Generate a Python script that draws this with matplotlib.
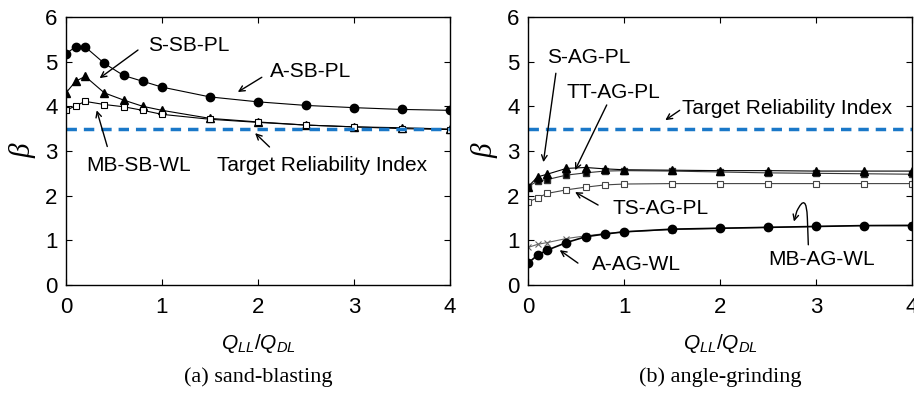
import matplotlib
matplotlib.use("Agg")
import matplotlib.pyplot as plt
from matplotlib.path import Path
from matplotlib.patches import FancyArrowPatch

plt.rcParams['font.family'] = ['Liberation Sans', 'DejaVu Sans']
plt.rcParams['mathtext.fontset'] = 'custom'
plt.rcParams['mathtext.it'] = 'Liberation Sans:italic'
plt.rcParams['mathtext.rm'] = 'Liberation Sans'

# ratio of live load to dead load
ratio = [0, 0.1, 0.2, 0.4, 0.6, 0.8, 1.0, 1.5, 2.0, 2.5, 3.0, 3.5, 4.0]
target_beta = 3.5

# (a) sand-blasting
a_sb_pl = [5.18, 5.33, 5.33, 4.96, 4.69, 4.56, 4.43, 4.21, 4.10, 4.02, 3.97, 3.93, 3.91]
s_sb_pl = [4.30, 4.56, 4.67, 4.30, 4.14, 4.00, 3.91, 3.73, 3.65, 3.58, 3.54, 3.52, 3.49]
mb_sb_wl = [3.91, 4.01, 4.11, 4.04, 3.99, 3.91, 3.82, 3.71, 3.64, 3.58, 3.54, 3.50, 3.48]

# (b) angle-grinding
s_ag_pl = [2.20, 2.42, 2.48, 2.61, 2.63, 2.60, 2.58, 2.57, 2.56, 2.56, 2.55, 2.55, 2.55]
tt_ag_pl = [2.20, 2.33, 2.36, 2.46, 2.51, 2.55, 2.56, 2.55, 2.53, 2.51, 2.50, 2.49, 2.48]
ts_ag_pl = [1.86, 1.95, 2.05, 2.13, 2.19, 2.24, 2.26, 2.27, 2.27, 2.27, 2.27, 2.27, 2.27]
a_ag_wl = [0.49, 0.67, 0.78, 0.95, 1.08, 1.14, 1.19, 1.25, 1.27, 1.29, 1.31, 1.33, 1.33]
mb_ag_wl = [0.84, 0.91, 0.95, 1.04, 1.10, 1.15, 1.19, 1.24, 1.27, 1.29, 1.31, 1.33, 1.34]

fig = plt.figure(figsize=(9.14, 4.08), dpi=100)
ax1 = fig.add_axes([0.0722, 0.3015, 0.4201, 0.6569])
ax2 = fig.add_axes([0.5777, 0.3015, 0.4201, 0.6569])

blue = '#1a78c8'
lw = 0.8
ms = 6

# panel (a)
ax1.plot(ratio, a_sb_pl, color='k', lw=lw, marker='o', ms=ms, mfc='k')
ax1.plot(ratio, s_sb_pl, color='k', lw=lw, marker='^', ms=ms, mfc='k')
ax1.plot(ratio, mb_sb_wl, color='k', lw=lw, marker='s', ms=5, mfc='white', mew=0.8)
ax1.axhline(target_beta, color=blue, lw=2.5, ls=(0, (3, 2)))

# panel (b)
ax2.axhline(target_beta, color=blue, lw=2.5, ls=(0, (3, 2)))
ax2.plot(ratio, ts_ag_pl, color='#444444', lw=lw, marker='s', ms=5, mfc='white', mew=0.8)
ax2.plot(ratio, tt_ag_pl, color='#333333', lw=lw, marker='s', ms=5, mfc='k')
ax2.plot(ratio, s_ag_pl, color='k', lw=lw, marker='^', ms=ms, mfc='k')
ax2.plot(ratio, mb_ag_wl, color='#666666', lw=lw, marker='x', ms=5, mew=0.8)
ax2.plot(ratio, a_ag_wl, color='k', lw=1.2, marker='o', ms=ms, mfc='k')

for ax in (ax1, ax2):
    ax.set_xlim(0, 4)
    ax.set_ylim(0, 6)
    ax.set_xticks([0, 1, 2, 3, 4])
    ax.set_yticks([0, 1, 2, 3, 4, 5, 6])
    ax.tick_params(direction='in', top=True, right=True, labelsize=16, length=4)
    ax.tick_params(axis='x', pad=9)
    ax.tick_params(axis='y', pad=6)
    for s in ax.spines.values():
        s.set_linewidth(1.0)
    ax.set_xlabel(r'$Q_{LL}/Q_{DL}$', fontsize=15, labelpad=10)
    ax.set_ylabel('β', fontsize=21, family='Liberation Serif', style='italic', labelpad=6)

arrow = dict(arrowstyle='->', color='k', lw=1.0, shrinkA=0, shrinkB=0)
fs = 15

ax1.annotate('', xy=(0.35, 4.63), xytext=(0.75, 5.26), arrowprops=arrow)
ax1.text(0.85, 5.37, 'S-SB-PL', fontsize=fs, va='center', ha='left')
ax1.annotate('', xy=(1.79, 4.32), xytext=(2.04, 4.65), arrowprops=arrow)
ax1.text(2.12, 4.77, 'A-SB-PL', fontsize=fs, va='center', ha='left')
ax1.annotate('', xy=(0.32, 3.91), xytext=(0.43, 3.1), arrowprops=arrow)
ax1.text(0.21, 2.68, 'MB-SB-WL', fontsize=fs, va='center', ha='left')
ax1.annotate('', xy=(1.97, 3.4), xytext=(2.12, 3.09), arrowprops=arrow)
ax1.text(1.57, 2.68, 'Target Reliability Index', fontsize=fs, va='center', ha='left')

ax2.annotate('', xy=(0.16, 2.75), xytext=(0.29, 4.74), arrowprops=arrow)
ax2.text(0.2, 5.1, 'S-AG-PL', fontsize=fs, va='center', ha='left')
ax2.annotate('', xy=(0.49, 2.57), xytext=(0.82, 4.03), arrowprops=arrow)
ax2.text(0.4, 4.32, 'TT-AG-PL', fontsize=fs, va='center', ha='left')
ax2.annotate('', xy=(1.43, 3.69), xytext=(1.58, 3.91), arrowprops=arrow)
ax2.text(1.6, 3.96, 'Target Reliability Index', fontsize=fs, va='center', ha='left')
ax2.annotate('', xy=(0.49, 2.08), xytext=(0.73, 1.79), arrowprops=arrow)
ax2.text(0.88, 1.72, 'TS-AG-PL', fontsize=fs, va='center', ha='left')
ax2.annotate('', xy=(0.33, 0.78), xytext=(0.52, 0.49), arrowprops=arrow)
ax2.text(0.67, 0.45, 'A-AG-WL', fontsize=fs, va='center', ha='left')
ax2.text(2.5, 0.56, 'MB-AG-WL', fontsize=fs, va='center', ha='left')

# curly pointer for MB-AG-WL
verts = [(2.92, 0.9), (2.91, 1.5), (2.90, 2.1), (2.80, 1.65), (2.77, 1.42)]
codes = [Path.MOVETO, Path.LINETO, Path.CURVE3, Path.CURVE3, Path.LINETO]
curl = FancyArrowPatch(path=Path(verts, codes), arrowstyle='->', mutation_scale=10,
                       color='k', lw=1.0)
ax2.add_patch(curl)

fig.text(258 / 914, 1 - 377 / 408, '(a) sand-blasting', fontsize=16,
         family='Liberation Serif', ha='center', va='center')
fig.text(720 / 914, 1 - 377 / 408, '(b) angle-grinding', fontsize=16,
         family='Liberation Serif', ha='center', va='center')

fig.savefig('out.png', dpi=100)
